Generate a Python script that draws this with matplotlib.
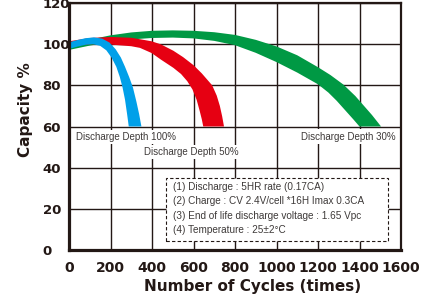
import numpy as np
import matplotlib.pyplot as plt
from matplotlib.patches import Rectangle

# Band outlines: outer (upper/right) edge and inner (lower/left) edge
blue_outer_x = [0, 40, 80, 120, 160, 195, 225, 250, 270, 290, 308, 325, 338, 349]
blue_outer_y = [100.9, 102.0, 102.9, 103.3, 102.7, 100.8, 97.5, 93.5, 89.0, 84.0, 79.0, 72.0, 66.0, 60.0]
blue_inner_x = [0, 40, 80, 115, 150, 180, 205, 228, 245, 258, 270, 280, 288]
blue_inner_y = [97.7, 98.8, 99.7, 100.0, 99.2, 97.0, 93.5, 89.0, 84.0, 79.0, 73.0, 66.0, 60.0]

red_outer_x = [0, 100, 200, 300, 342, 398, 443, 503, 550, 600, 640, 690, 712, 727, 738, 747]
red_outer_y = [101.4, 103.0, 103.5, 103.1, 102.4, 101.4, 99.9, 96.8, 93.7, 89.8, 85.8, 80.0, 75.0, 70.0, 65.0, 60.0]
red_inner_x = [0, 100, 200, 300, 342, 398, 443, 503, 540, 570, 595, 615, 630, 640, 647]
red_inner_y = [98.7, 100.0, 99.8, 99.0, 98.2, 95.7, 92.5, 88.5, 85.5, 82.0, 78.0, 73.0, 67.5, 63.5, 60.0]

green_outer_x = [0, 100, 200, 300, 400, 500, 600, 700, 800, 900, 1000, 1100, 1200, 1260, 1322, 1380, 1420, 1460, 1504]
green_outer_y = [99.3, 102.2, 104.3, 105.7, 106.5, 106.7, 106.5, 105.8, 104.5, 102.1, 98.9, 94.6, 88.8, 85.0, 80.4, 74.8, 70.2, 65.6, 60.0]
green_inner_x = [0, 100, 200, 300, 400, 500, 600, 700, 800, 900, 1000, 1100, 1200, 1250, 1290, 1330, 1370, 1400]
green_inner_y = [97.2, 99.3, 101.0, 102.3, 103.0, 103.2, 102.8, 101.6, 99.5, 95.8, 91.3, 86.2, 80.5, 76.5, 72.5, 68.0, 63.5, 60.0]

x_ticks = [0, 200, 400, 600, 800, 1000, 1200, 1400, 1600]
y_ticks = [0, 20, 40, 60, 80, 100, 120]

notes = ['(1) Discharge : 5HR rate (0.17CA)',
         '(2) Charge : CV 2.4V/cell *16H Imax 0.3CA',
         '(3) End of life discharge voltage : 1.65 Vpc',
         '(4) Temperature : 25\u00b12\u00b0C']

dark = '#231815'
gray = '#3e3a39'

fig = plt.figure(figsize=(4.32, 2.98), dpi=100)
ax = fig.add_axes([69 / 432, 48 / 298, 332 / 432, 247 / 298])

def band(ox, oy, ix, iy, color):
    xs = np.concatenate([ox, ix[::-1]])
    ys = np.concatenate([oy, iy[::-1]])
    ax.fill(xs, ys, color=color, lw=0, zorder=2)

band(green_outer_x, green_outer_y, green_inner_x, green_inner_y, '#009944')
band(red_outer_x, red_outer_y, red_inner_x, red_inner_y, '#e60012')
band(blue_outer_x, blue_outer_y, blue_inner_x, blue_inner_y, '#00a0e9')

ax.set_xlim(0, 1600)
ax.set_ylim(0, 120)
ax.set_xticks(x_ticks)
ax.set_yticks(y_ticks)
ax.grid(True, color=dark, lw=1.0)
ax.set_axisbelow(True)
ax.tick_params(length=0)
ax.tick_params(axis='x', pad=8)
ax.tick_params(axis='y', pad=19)
for lab in ax.get_xticklabels():
    lab.set_fontfamily('DejaVu Sans')
    lab.set_fontweight('bold')
    lab.set_fontsize(10)
    lab.set_color(dark)
for lab in ax.get_yticklabels():
    lab.set_fontfamily('DejaVu Sans')
    lab.set_fontweight('bold')
    lab.set_fontsize(9.5)
    lab.set_color(dark)
    lab.set_horizontalalignment('left')

for side in ['left', 'bottom']:
    ax.spines[side].set_linewidth(2.3)
    ax.spines[side].set_color(dark)
for side in ['top', 'right']:
    ax.spines[side].set_linewidth(1.6)
    ax.spines[side].set_color(dark)

ax.set_xlabel('Number of Cycles (times)', fontsize=11, fontweight='bold',
              family='DejaVu Sans', color=dark)
ax.set_ylabel('Capacity %', fontsize=11, fontweight='bold',
              family='DejaVu Sans', color=dark)
ax.xaxis.set_label_coords(0.554, -0.117)
ax.yaxis.set_label_coords(-0.108, 0.567)

# curve labels with white backing over the grid
lab_kw = dict(fontsize=7, color=gray, family='Liberation Sans', va='center', zorder=4,
              bbox=dict(facecolor='white', edgecolor='none', pad=1.6))
ax.text(0.021, 0.457, 'Discharge Depth 100%', transform=ax.transAxes, ha='left', **lab_kw)
ax.text(0.227, 0.396, 'Discharge Depth 50%', transform=ax.transAxes, ha='left', **lab_kw)
ax.text(0.983, 0.459, 'Discharge Depth 30%', transform=ax.transAxes, ha='right', **lab_kw)

# test conditions box
box = Rectangle((0.292, 0.036), 0.669, 0.255, transform=ax.transAxes,
                facecolor='white', edgecolor=dark, lw=0.8, ls=(0, (3, 2)), zorder=4)
ax.add_patch(box)
for i, line in enumerate(notes):
    ax.text(0.313, 0.255 - i * 0.058, line, transform=ax.transAxes, fontsize=7.2,
            color=gray, family='Liberation Sans', va='center', ha='left', zorder=5)

fig.savefig('out.png', dpi=100)
